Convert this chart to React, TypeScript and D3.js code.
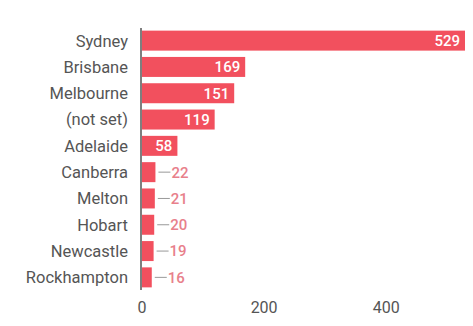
import React from "react";
import * as d3 from "d3";

const categories = ["Sydney", "Brisbane", "Melbourne", "(not set)", "Adelaide", "Canberra", "Melton", "Hobart", "Newcastle", "Rockhampton"];
const values = [529, 169, 151, 119, 58, 22, 21, 20, 19, 16];
const ticks = [0, 200, 400];

export default function App() {
  const width = 473, height = 326;
  const left = 142, top = 28, bottom = 290;
  const x = d3.scaleLinear().domain([0, 529]).range([left, 465]);
  const y = d3.scaleBand().domain(categories).range([top, bottom]).paddingInner(0.24).paddingOuter(0.1);
  const barColor = "#f2505e";
  const font = "Roboto, 'Noto Sans', sans-serif";
  return (
    <svg width={width} height={height} style={{ position: "absolute", left: 0, top: 0 }}>
      <rect width={width} height={height} fill="#fff" />
      {categories.map((c, i) => {
        const v = values[i];
        const y0 = y(c)!;
        const bh = y.bandwidth();
        const x1 = x(v);
        const cy = y0 + bh / 2;
        const inside = x1 - left > 30;
        return (
          <g key={c}>
            <rect x={left} y={y0} width={x1 - left} height={bh} fill={barColor} />
            <text x={128} y={cy} dy="0.36em" textAnchor="end" fontFamily={font} fontSize={16.5} fill="#555">{c}</text>
            {inside ? (
              <text x={x1 - 5} y={cy} dy="0.36em" textAnchor="end" fontFamily={font} fontSize={15} fontWeight={500} fill="#fff">{v}</text>
            ) : (
              <g>
                <line x1={x1 + 3} x2={x1 + 15} y1={cy} y2={cy} stroke="#999" strokeWidth={1} />
                <text x={x1 + 16} y={cy} dy="0.36em" textAnchor="start" fontFamily={font} fontSize={15} fontWeight={500} fill="#e8808b">{v}</text>
              </g>
            )}
          </g>
        );
      })}
      <line x1={141} x2={141} y1={top} y2={bottom} stroke="#555" strokeWidth={1.5} />
      {ticks.map(t => (
        <text key={t} x={x(t)} y={307} dy="0.36em" textAnchor="middle" fontFamily={font} fontSize={16} fill="#555">{t}</text>
      ))}
    </svg>
  );
}
